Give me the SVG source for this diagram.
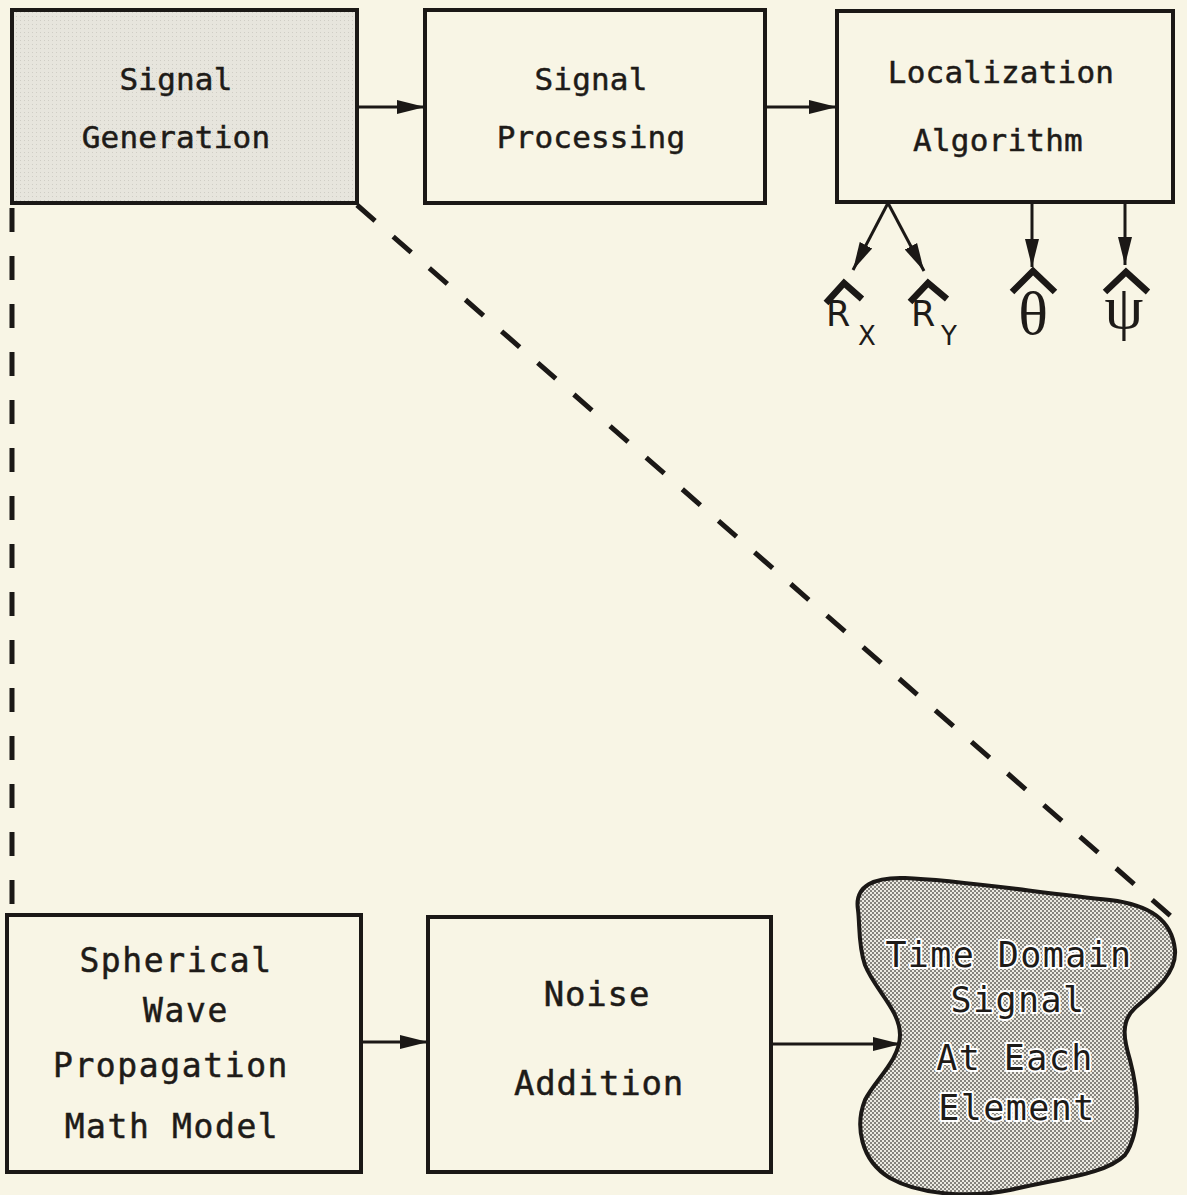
<svg xmlns="http://www.w3.org/2000/svg" width="1187" height="1195" viewBox="0 0 1187 1195">
  <defs>
    <style>
      .box { fill: none; stroke: #1b1816; stroke-width: 4; }
      .txt { font-family: "DejaVu Sans Mono", "Liberation Mono", monospace; fill: #1e1b18; stroke: #1e1b18; stroke-width: 0.5px; text-anchor: middle; }
      .top { font-size: 31px; letter-spacing: 0.2px; }
      .bot { font-size: 33px; letter-spacing: 1.6px; }
      .big { font-size: 34px; letter-spacing: 0.8px; }
      .blob { font-size: 35px; letter-spacing: 1.4px; stroke: #ffffff; stroke-width: 4px; paint-order: stroke; stroke-linejoin: round; }
      .wire { fill: none; stroke: #1b1816; stroke-width: 3; }
      .dash { fill: none; stroke: #1b1816; stroke-width: 5; stroke-dasharray: 24 24; }
      .hat { fill: none; stroke: #1b1816; stroke-width: 6.5; stroke-linejoin: miter; stroke-linecap: butt; }
      .sym { font-family: "DejaVu Sans", "Liberation Sans", sans-serif; fill: #1e1b18; }
      .greek { font-family: "Liberation Serif", "DejaVu Serif", serif; fill: #1e1b18; text-anchor: middle; }
    </style>
    <pattern id="lightDots" width="4" height="4" patternUnits="userSpaceOnUse">
      <rect width="4" height="4" fill="#e7e5dd"/>
      <rect x="0" y="0" width="1" height="1" fill="#cfcdc5"/>
    </pattern>
    <pattern id="darkDots" width="4" height="4" patternUnits="userSpaceOnUse">
      <rect width="4" height="4" fill="#eceae2"/>
      <rect x="0" y="0" width="2" height="2" fill="#85837d"/>
      <rect x="2" y="2" width="2" height="2" fill="#85837d"/>
    </pattern>
    <marker id="arrow" markerUnits="userSpaceOnUse" markerWidth="30" markerHeight="16" refX="28" refY="8" orient="auto">
      <path d="M0 1 L28 8 L0 15 Z" fill="#1b1816"/>
    </marker>
  </defs>

  <!-- paper -->
  <rect width="1187" height="1195" fill="#f8f5e5"/>

  <!-- connectors -->
  <g id="connectors">
    <line class="wire" x1="357" y1="107" x2="425" y2="107" marker-end="url(#arrow)"/>
    <line class="wire" x1="765" y1="107" x2="837" y2="107" marker-end="url(#arrow)"/>
    <line class="wire" x1="888" y1="203" x2="853" y2="270" marker-end="url(#arrow)"/>
    <line class="wire" x1="888" y1="203" x2="924" y2="271" marker-end="url(#arrow)"/>
    <line class="wire" x1="1032" y1="202" x2="1032" y2="267" marker-end="url(#arrow)"/>
    <line class="wire" x1="1125" y1="202" x2="1125" y2="265" marker-end="url(#arrow)"/>
    <line class="wire" x1="361" y1="1042" x2="428" y2="1042" marker-end="url(#arrow)"/>
    <line class="wire" x1="771" y1="1044" x2="901" y2="1044" marker-end="url(#arrow)"/>
    <line class="dash" x1="12" y1="208" x2="12" y2="912"/>
    <line class="dash" x1="357" y1="205" x2="1173" y2="918"/>
  </g>

  <!-- signal generation -->
  <g id="signal-generation">
    <rect x="12" y="10" width="345" height="193" class="box" style="fill:url(#lightDots)"/>
    <text class="txt top" x="176" y="90">Signal</text>
    <text class="txt top" x="176" y="148">Generation</text>
  </g>

  <!-- signal processing -->
  <g id="signal-processing">
    <rect x="425" y="10" width="340" height="193" class="box"/>
    <text class="txt top" x="591" y="90">Signal</text>
    <text class="txt top" x="591" y="148">Processing</text>
  </g>

  <!-- localization algorithm -->
  <g id="localization-algorithm">
    <rect x="837" y="11" width="336" height="191" class="box"/>
    <text class="txt top" x="1001" y="83">Localization</text>
    <text class="txt top" x="998" y="151">Algorithm</text>
  </g>

  <!-- estimated outputs -->
  <g id="out-rx">
    <polyline class="hat" points="826,303 844,283 862,299"/>
    <text class="sym" x="826" y="326" font-size="35">R</text>
    <text class="sym" x="858" y="345" font-size="26">X</text>
  </g>
  <g id="out-ry">
    <polyline class="hat" points="910,302 928,283 947,299"/>
    <text class="sym" x="911" y="326" font-size="35">R</text>
    <text class="sym" x="941" y="345" font-size="26">Y</text>
  </g>
  <g id="out-theta">
    <polyline class="hat" points="1012,292 1033,271 1055,292"/>
    <text class="greek" x="1033" y="334" font-size="62">θ</text>
  </g>
  <g id="out-psi">
    <polyline class="hat" points="1105,292 1126,272 1148,292"/>
    <text class="greek" x="1124" y="328" font-size="62">ψ</text>
  </g>

  <!-- spherical wave propagation math model -->
  <g id="propagation-model">
    <rect x="7" y="915" width="354" height="257" class="box"/>
    <text class="txt bot" x="176" y="972">Spherical</text>
    <text class="txt bot" x="186" y="1022">Wave</text>
    <text class="txt bot" x="171" y="1077">Propagation</text>
    <text class="txt bot" x="172" y="1138">Math Model</text>
  </g>

  <!-- noise addition -->
  <g id="noise-addition">
    <rect x="428" y="917" width="343" height="255" class="box"/>
    <text class="txt big" x="597" y="1006">Noise</text>
    <text class="txt big" x="599" y="1095">Addition</text>
  </g>

  <!-- time domain signal at each element -->
  <g id="element-signal">
    <path d="M858 910 C854 885 875 877 905 878 C960 880 1040 893 1110 900 C1150 905 1172 920 1175 950 C1177 975 1150 995 1135 1008 C1120 1022 1124 1040 1130 1060 C1138 1090 1142 1130 1125 1155 C1105 1175 1060 1178 1010 1190 C970 1198 920 1195 890 1178 C860 1160 855 1125 865 1100 C875 1080 900 1060 900 1035 C900 1010 875 990 865 965 C858 945 860 925 858 910 Z" fill="url(#darkDots)" stroke="#1b1816" stroke-width="4"/>
    <text class="txt blob" x="1009" y="967">Time Domain</text>
    <text class="txt blob" x="1018" y="1012">Signal</text>
    <text class="txt blob" x="1015" y="1070">At Each</text>
    <text class="txt blob" x="1017" y="1120">Element</text>
  </g>
</svg>
